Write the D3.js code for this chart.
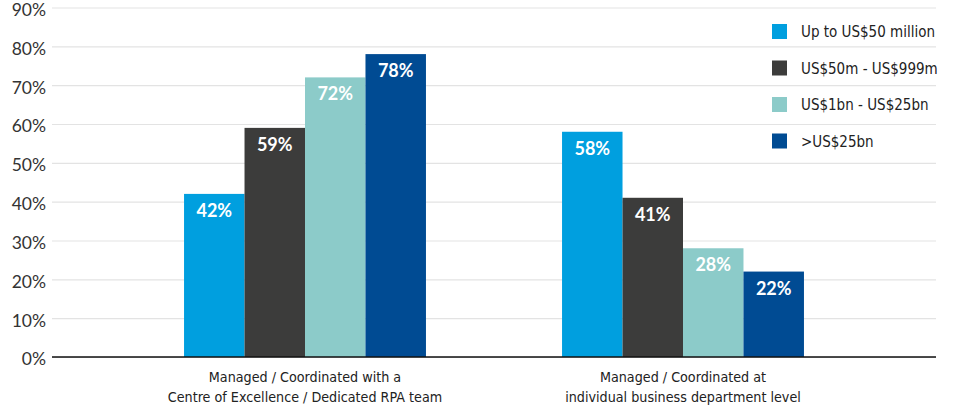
<!DOCTYPE html>
<html>
<head>
<meta charset="utf-8">
<script src="https://cdn.jsdelivr.net/npm/d3@7"></script>
<style>
  body { margin: 0; background: #fff; }
  #chart { width: 954px; height: 405px; }
</style>
</head>
<body>
<div id="chart"></div>
<script>
const categories = [
  ["Managed / Coordinated with a", "Centre of Excellence / Dedicated RPA team"],
  ["Managed / Coordinated at", "individual business department level"]
]
const seriesNames = ["Up to US$50 million", "US$50m - US$999m", "US$1bn - US$25bn", ">US$25bn"]
const seriesColors = ["#009fdf", "#3c3c3b", "#8ccbc9", "#004b93"]
const values = [
  [42, 59, 72, 78],
  [58, 41, 28, 22]
]
const yTicks = [0, 10, 20, 30, 40, 50, 60, 70, 80, 90]

const width = 954
const height = 405
const condensed = "'Liberation Sans Narrow', 'DejaVu Sans Condensed', sans-serif"

const svg = d3.select("#chart")
  .append("svg")
  .attr("width", width)
  .attr("height", height)

const catKeys = categories.map((c, i) => i)

const x0 = d3.scaleBand()
  .domain(catKeys)
  .range([116, 872])
  .paddingInner(0.36)
  .paddingOuter(0.18)

const x1 = d3.scaleBand()
  .domain(seriesNames)
  .range([0, x0.bandwidth()])

const y = d3.scaleLinear()
  .domain([0, 90])
  .range([357, 7.5])

// gridlines + tick labels
const yAxis = svg.append("g")
  .attr("transform", "translate(52,0)")
  .call(d3.axisLeft(y).tickValues(yTicks).tickFormat((d) => d + "%").tickSize(-(936 - 52)).tickPadding(6))

yAxis.select(".domain").remove()
yAxis.selectAll(".tick line").attr("stroke", "#e3e3e3").attr("stroke-width", 1.2)
yAxis.selectAll(".tick text")
  .attr("fill", "#333")
  .attr("font-family", "Lato, sans-serif")
  .attr("font-size", "17.5px")
  .attr("dy", "0.45em")

// bars
const groups = svg.append("g")
  .selectAll("g")
  .data(values)
  .join("g")
  .attr("transform", (d, i) => `translate(${x0(i)},0)`)

groups.selectAll("rect")
  .data((d) => d.map((v, j) => ({ v, j })))
  .join("rect")
  .attr("x", (d) => x1(seriesNames[d.j]))
  .attr("width", x1.bandwidth())
  .attr("y", (d) => y(d.v))
  .attr("height", (d) => y(0) - y(d.v))
  .attr("fill", (d) => seriesColors[d.j])

groups.selectAll("text")
  .data((d) => d.map((v, j) => ({ v, j })))
  .join("text")
  .attr("x", (d) => x1(seriesNames[d.j]) + x1.bandwidth() / 2)
  .attr("y", (d) => y(d.v) + 23)
  .attr("text-anchor", "middle")
  .attr("fill", "#fff")
  .attr("font-family", "Lato, sans-serif")
  .attr("font-weight", "bold")
  .attr("font-size", "18px")
  .text((d) => d.v + "%")

// baseline
svg.append("line")
  .attr("x1", 52)
  .attr("x2", 936)
  .attr("y1", y(0))
  .attr("y2", y(0))
  .attr("stroke", "#111")
  .attr("stroke-width", 1.5)

// category labels
svg.append("g")
  .selectAll("text")
  .data(categories)
  .join("text")
  .attr("x", (d, i) => x0(i) + x0.bandwidth() / 2)
  .attr("y", 382)
  .attr("text-anchor", "middle")
  .attr("fill", "#222")
  .attr("font-family", condensed)
  .attr("font-size", "14.2px")
  .selectAll("tspan")
  .data((d) => d)
  .join("tspan")
  .attr("x", function () { return this.parentNode.getAttribute("x") })
  .attr("dy", (d, i) => i === 0 ? 0 : 20)
  .text((d) => d)

// legend
const legend = svg.append("g")
  .selectAll("g")
  .data(seriesNames)
  .join("g")
  .attr("transform", (d, i) => `translate(772,${32 + i * 36.5})`)

legend.append("rect")
  .attr("x", 0)
  .attr("y", -8)
  .attr("width", 15)
  .attr("height", 15)
  .attr("fill", (d, i) => seriesColors[i])

legend.append("text")
  .attr("x", 29)
  .attr("y", 0)
  .attr("dy", "0.35em")
  .attr("fill", "#222")
  .attr("font-family", condensed)
  .attr("font-size", "15px")
  .text((d) => d)
</script>
</body>
</html>
